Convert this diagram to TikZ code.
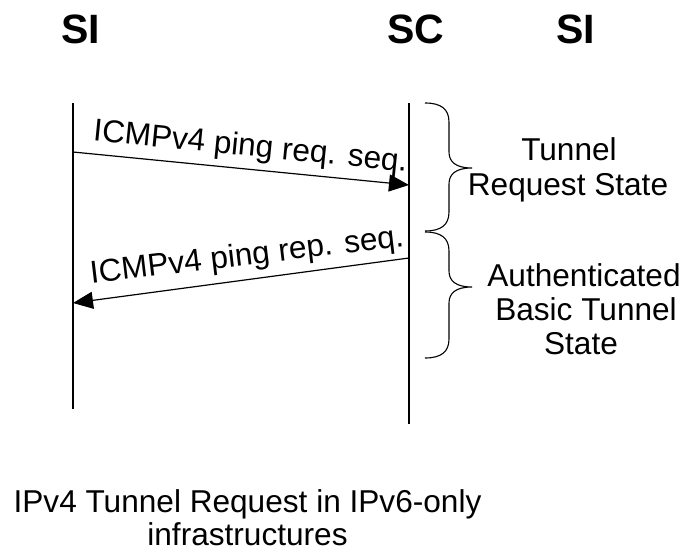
\documentclass[tikz,border=0pt]{standalone}
\usepackage{fontspec}
\setmainfont{Liberation Sans}
\usetikzlibrary{arrows.meta}
\begin{document}
\begin{tikzpicture}[x=1pt,y=-1pt,
  head/.style={font=\fontsize{41}{45}\selectfont\bfseries, anchor=base, inner sep=0pt},
  txt/.style={font=\fontsize{31.6}{35}\selectfont, anchor=base, inner sep=0pt},
  life/.style={line width=1.2pt},
  msg/.style={line width=1.2pt, -{Triangle[length=20pt,width=17pt]}},
  bracestyle/.style={line width=1.1pt}]
\useasboundingbox[fill=white] (0,0) rectangle (685,554);
% headers
\node[head] (h1) at (81,43) {SI};
\node[head] (h2) at (415.5,43) {SC};
\node[head] (h3) at (576,43) {SI};
% lifelines
\coordinate (l1t) at (73,103);
\coordinate (l1b) at (73,409);
\coordinate (l2t) at (409,103);
\coordinate (l2b) at (409,424);
\draw[life] (l1t) -- (l1b);
\draw[life] (l2t) -- (l2b);
% messages
\coordinate (m1s) at (73,152);
\coordinate (m1e) at (409,185);
\coordinate (m2s) at (409,258);
\coordinate (m2e) at (73,303);
\draw[msg] (m1s) -- (m1e);
\draw[msg] (m2s) -- (m2e);
\node[txt, rotate=-5.7] (lab1) at (249.5,156) {ICMPv4 ping req. seq.};
\node[txt, rotate=6.8] (lab2) at (248,265) {ICMPv4 ping rep. seq.};
% braces
\draw[bracestyle] (425,103) .. controls (441,103) and (449,109) .. (449,122) -- (449,152)
  .. controls (449,162) and (456,168) .. (472,168)
  .. controls (456,168) and (449,174) .. (449,184) -- (449,212)
  .. controls (449,225) and (441,231) .. (425,231);
\draw[bracestyle] (425,232) .. controls (441,232) and (449,238) .. (449,251) -- (449,271)
  .. controls (449,281) and (456,287) .. (472,287)
  .. controls (456,287) and (449,293) .. (449,303) -- (449,339)
  .. controls (449,352) and (441,358) .. (425,358);
% state texts
\node[txt] (s1a) at (569,160) {Tunnel};
\node[txt] (s1b) at (568,195) {Request State};
\node[txt] (s2a) at (584,286) {Authenticated};
\node[txt] (s2b) at (586,320) {Basic Tunnel};
\node[txt] (s2c) at (581,354) {State};
% caption
\node[txt] (c1) at (247.5,512) {IPv4 Tunnel Request in IPv6-only};
\node[txt] (c2) at (247.5,545) {infrastructures};
\end{tikzpicture}
\end{document}
